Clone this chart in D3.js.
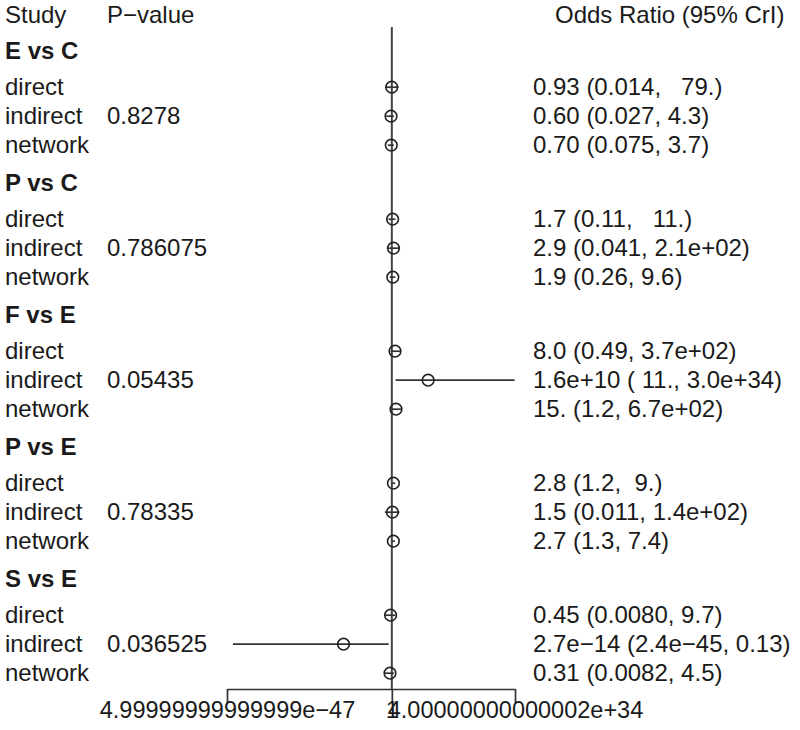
<!DOCTYPE html>
<html>
<head>
<meta charset="utf-8">
<script src="https://cdn.jsdelivr.net/npm/d3@7"></script>
<style>
  html, body { margin: 0; padding: 0; background: #fff; }
  svg text { font-family: "Liberation Sans", Arial, sans-serif; white-space: pre; fill: #1a1a1a; }
</style>
</head>
<body>
<svg id="chart" width="800" height="730"></svg>
<script>
const groups = ["E vs C", "P vs C", "F vs E", "P vs E", "S vs E"];
const studies = ["direct", "indirect", "network"];
const pValues = ["0.8278", "0.786075", "0.05435", "0.78335", "0.036525"];
const orMean  = [[0.93, 0.60, 0.70], [1.7, 2.9, 1.9], [8.0, 1.6e10, 15], [2.8, 1.5, 2.7], [0.45, 2.7e-14, 0.31]];
const orLower = [[0.014, 0.027, 0.075], [0.11, 0.041, 0.26], [0.49, 11, 1.2], [1.2, 0.011, 1.3], [0.0080, 2.4e-45, 0.0082]];
const orUpper = [[79, 4.3, 3.7], [11, 210, 9.6], [370, 3.0e34, 670], [9.0, 140, 7.4], [9.7, 0.13, 4.5]];
const orLabels = [
  ["0.93 (0.014,   79.)", "0.60 (0.027, 4.3)", "0.70 (0.075, 3.7)"],
  ["1.7 (0.11,   11.)", "2.9 (0.041, 2.1e+02)", "1.9 (0.26, 9.6)"],
  ["8.0 (0.49, 3.7e+02)", "1.6e+10 ( 11., 3.0e+34)", "15. (1.2, 6.7e+02)"],
  ["2.8 (1.2,  9.)", "1.5 (0.011, 1.4e+02)", "2.7 (1.3, 7.4)"],
  ["0.45 (0.0080, 9.7)", "2.7e\u221214 (2.4e\u221245, 0.13)", "0.31 (0.0082, 4.5)"]
];
const headers = ["Study", "P\u2212value", "Odds Ratio (95% CrI)"];
const tickValues = [5e-47, 1, 4e34];
const tickLabels = ["4.99999999999999e\u221247", "1", "4.00000000000002e+34"];

const svg = d3.select("#chart");
const FS = 24;

// scales
const x = d3.scaleLog().domain([5e-47, 4e34]).range([227, 515]);
const gy = d3.scaleLinear().domain([0, 1]).range([59, 191]); // group header baselines
const rowOffset = d3.scaleLinear().domain([0, 1]).range([36, 65]); // study row baseline offsets
const markerShift = -7.8;

// headers
const colX = [5, 107, 555];
svg.selectAll("text.hdr").data(headers).join("text")
  .attr("class", "hdr")
  .attr("x", (d, i) => colX[i]).attr("y", 23)
  .attr("font-size", FS).text(d => d);

// flatten rows
const rows = [];
groups.forEach((g, gi) => {
  studies.forEach((s, si) => {
    rows.push({
      gi, si, study: s,
      mean: orMean[gi][si], lo: orLower[gi][si], hi: orUpper[gi][si],
      label: orLabels[gi][si],
      p: si === 1 ? pValues[gi] : "",
      y: gy(gi) + rowOffset(si)
    });
  });
});

// group labels
svg.selectAll("text.grp").data(groups).join("text")
  .attr("class", "grp")
  .attr("x", 5).attr("y", (d, i) => gy(i))
  .attr("font-size", FS).attr("font-weight", "bold").text(d => d);

// study labels
svg.selectAll("text.study").data(rows).join("text")
  .attr("class", "study").attr("x", 5).attr("y", d => d.y)
  .attr("font-size", FS).text(d => d.study);

// p-values
svg.selectAll("text.pv").data(rows.filter(r => r.p)).join("text")
  .attr("class", "pv").attr("x", 107).attr("y", d => d.y)
  .attr("font-size", FS).text(d => d.p);

// OR labels
svg.selectAll("text.or").data(rows).join("text")
  .attr("class", "or").attr("x", 533).attr("y", d => d.y)
  .attr("font-size", FS).text(d => d.label);

// reference line at OR=1
svg.append("line")
  .attr("x1", x(1)).attr("x2", x(1))
  .attr("y1", 27).attr("y2", 689)
  .attr("stroke", "#444").attr("stroke-width", 2);

// CI lines
svg.selectAll("line.ci").data(rows).join("line")
  .attr("class", "ci")
  .attr("x1", d => x(d.lo)).attr("x2", d => x(d.hi))
  .attr("y1", d => d.y + markerShift).attr("y2", d => d.y + markerShift)
  .attr("stroke", "#333").attr("stroke-width", 1.7);

// point estimates
svg.selectAll("circle.pt").data(rows).join("circle")
  .attr("class", "pt")
  .attr("cx", d => x(d.mean)).attr("cy", d => d.y + markerShift)
  .attr("r", 5.8)
  .attr("fill", "none").attr("stroke", "#222").attr("stroke-width", 1.6);

// axis
const axis = d3.axisBottom(x)
  .tickValues(tickValues)
  .tickFormat((d, i) => tickLabels[i])
  .tickSize(14).tickSizeOuter(0).tickPadding(0);
const ag = svg.append("g").attr("transform", "translate(0,689)").call(axis);
ag.select(".domain").attr("stroke", "#333").attr("stroke-width", 1.7);
ag.selectAll(".tick line").attr("stroke", "#333").attr("stroke-width", 1.7);
ag.selectAll(".tick text")
  .attr("font-size", 23.5).attr("y", 29).attr("dy", 0)
  .attr("fill", "#1a1a1a")
  .style("font-family", "'Liberation Sans', Arial, sans-serif");
</script>
</body>
</html>
